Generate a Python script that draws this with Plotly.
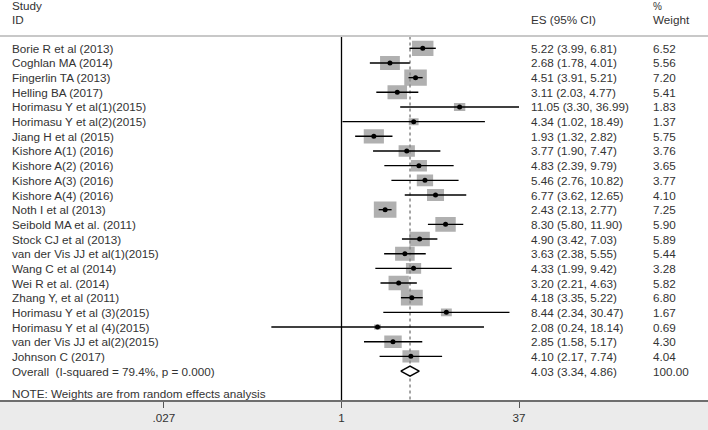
import math
import plotly.graph_objects as go

studies = [
    "Borie R et al (2013)", "Coghlan MA (2014)", "Fingerlin TA (2013)", "Helling BA (2017)",
    "Horimasu Y et al(1)(2015)", "Horimasu Y et al(2)(2015)", "Jiang H et al (2015)",
    "Kishore A(1) (2016)", "Kishore A(2) (2016)", "Kishore A(3) (2016)", "Kishore A(4) (2016)",
    "Noth I et al (2013)", "Seibold MA et al. (2011)", "Stock CJ et al (2013)",
    "van der Vis JJ et al(1)(2015)", "Wang C et al (2014)", "Wei R et al. (2014)",
    "Zhang Y, et al (2011)", "Horimasu Y et al (3)(2015)", "Horimasu Y et al (4)(2015)",
    "van der Vis JJ et al(2)(2015)", "Johnson C (2017)",
]
es = [5.22, 2.68, 4.51, 3.11, 11.05, 4.34, 1.93, 3.77, 4.83, 5.46, 6.77, 2.43, 8.30, 4.90,
      3.63, 4.33, 3.20, 4.18, 8.44, 2.08, 2.85, 4.10]
lo = [3.99, 1.78, 3.91, 2.03, 3.30, 1.02, 1.32, 1.90, 2.39, 2.76, 3.62, 2.13, 5.80, 3.42,
      2.38, 1.99, 2.21, 3.35, 2.34, 0.24, 1.58, 2.17]
hi = [6.81, 4.01, 5.21, 4.77, 36.99, 18.49, 2.82, 7.47, 9.79, 10.82, 12.65, 2.77, 11.90, 7.03,
      5.55, 9.42, 4.63, 5.22, 30.47, 18.14, 5.17, 7.74]
weights = [6.52, 5.56, 7.20, 5.41, 1.83, 1.37, 5.75, 3.76, 3.65, 3.77, 4.10, 7.25, 5.90, 5.89,
           5.44, 3.28, 5.82, 6.80, 1.67, 0.69, 4.30, 4.04]
overall_label = "Overall  (I-squared = 79.4%, p = 0.000)"
overall_es, overall_lo, overall_hi, overall_w = 4.03, 3.34, 4.86, 100.00
tick_vals = [0.027, 1, 37]
tick_text = [".027", "1", "37"]
note = "NOTE: Weights are from random effects analysis"

# geometry
W, H = 708, 430
PX_PER_DEC = 113.2
X_RANGE = [-341.5 / PX_PER_DEC, (W - 341.5) / PX_PER_DEC]
ROW_PX = 14.67
PLOT_H = 400
Y_TOP = -48.3 / ROW_PX
Y_BOT = (PLOT_H - 48.3) / ROW_PX
FONT = "Arial, Liberation Sans, sans-serif"
FS = 11.7
TXT = "#333333"

n = len(studies)
rows = list(range(n))
orow = n

fig = go.Figure()

# boxes (area proportional to weight)
bx, by = [], []
for r, e, w in zip(rows, es, weights):
    hw = 8.4 * math.sqrt(w) / 2 / PX_PER_DEC
    hh = 6.0 * math.sqrt(w) / 2 / ROW_PX
    le = math.log10(e)
    x0, x1 = 10 ** (le - hw), 10 ** (le + hw)
    bx += [x0, x1, x1, x0, x0, None]
    by += [r - hh, r - hh, r + hh, r + hh, r - hh, None]
fig.add_trace(go.Scatter(x=bx, y=by, mode="lines", fill="toself", fillcolor="#B0B0B0",
                         line=dict(width=0, color="#B0B0B0"), hoverinfo="skip"))

# reference line at 1
fig.add_trace(go.Scatter(x=[1, 1], y=[-0.84, Y_BOT], mode="lines",
                         line=dict(color="black", width=1.3), hoverinfo="skip"))
# dashed overall line
fig.add_trace(go.Scatter(x=[overall_es, overall_es], y=[-0.8, Y_BOT], mode="lines",
                         line=dict(color="#888888", width=1.5, dash="3px,3px"), hoverinfo="skip"))

# CI lines
cx, cy = [], []
for r, a, b in zip(rows, lo, hi):
    cx += [a, b, None]
    cy += [r, r, None]
fig.add_trace(go.Scatter(x=cx, y=cy, mode="lines", line=dict(color="black", width=1.4),
                         hoverinfo="skip"))
# point estimates
fig.add_trace(go.Scatter(x=es, y=rows, mode="markers",
                         marker=dict(color="black", size=5, symbol="circle"), hoverinfo="skip"))

# overall diamond
dh = 5 / ROW_PX
fig.add_trace(go.Scatter(x=[overall_lo, overall_es, overall_hi, overall_es, overall_lo],
                         y=[orow, orow - dh, orow, orow + dh, orow], mode="lines", fill="toself",
                         fillcolor="white", line=dict(color="black", width=1.5), hoverinfo="skip"))

ann = []
def txt(xpx, y, s, size=FS):
    ann.append(dict(x=xpx / W, xref="paper", y=y, yref="y", text=s, showarrow=False,
                    xanchor="left", yanchor="middle", font=dict(family=FONT, size=size, color=TXT)))

# header
txt(10, -2.93, "Study")
txt(10, -1.98, "ID")
txt(529, -1.98, "ES (95% CI)")
txt(651, -2.88, "%", size=10)
txt(651, -1.98, "Weight")

for r, s, e, a, b, w in zip(rows, studies, es, lo, hi, weights):
    txt(10, r, s)
    txt(529, r, f"{e:.2f} ({a:.2f}, {b:.2f})")
    txt(651, r, f"{w:.2f}")
txt(10, orow, overall_label)
txt(529, orow, f"{overall_es:.2f} ({overall_lo:.2f}, {overall_hi:.2f})")
txt(651, orow, f"{overall_w:.2f}")
txt(10, (393.5 - 48.3) / ROW_PX, note)

fig.update_layout(
    width=W, height=H,
    margin=dict(l=0, r=0, t=0, b=0),
    paper_bgcolor="#EBEBEB", plot_bgcolor="white",
    showlegend=False,
    annotations=ann,
    shapes=[dict(type="line", xref="paper", x0=0, x1=1, yref="y", y0=-0.84, y1=-0.84,
                 line=dict(color="#C8C8C8", width=2))],
    xaxis=dict(type="log", range=X_RANGE, showgrid=False, zeroline=False,
               showline=True, linecolor="#6E6E6E", linewidth=1.5,
               ticks="outside", ticklen=6, tickcolor="#555555", tickwidth=1,
               tickvals=tick_vals, ticktext=tick_text,
               tickfont=dict(family=FONT, size=FS, color=TXT)),
    yaxis=dict(range=[Y_BOT, Y_TOP], domain=[(H - PLOT_H) / H, 1], showgrid=False,
               zeroline=False, showticklabels=False, showline=False),
)

fig.write_html("out.html", config={"displayModeBar": False, "staticPlot": True},
               post_script="document.body.style.margin='0px';document.body.style.overflow='hidden';")
